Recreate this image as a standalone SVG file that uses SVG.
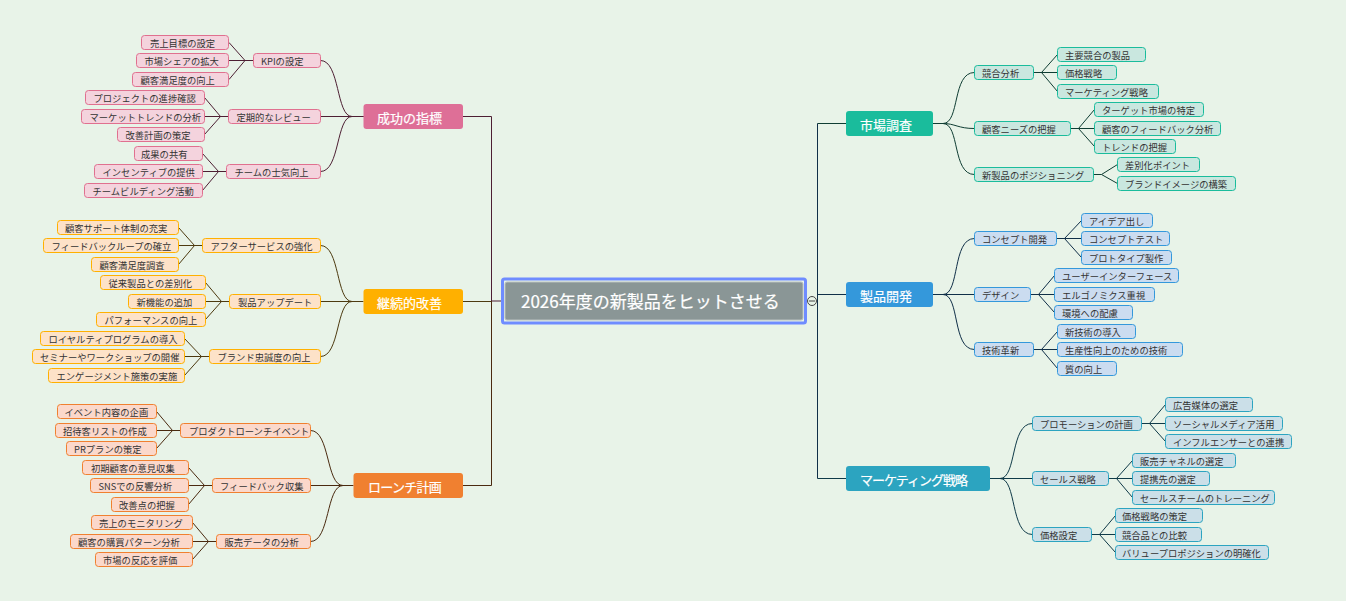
<svg xmlns="http://www.w3.org/2000/svg" width="1346" height="601" viewBox="0 0 1346 601">
<style>
text{font-family:"Noto Sans CJK JP","Noto Sans",sans-serif}
.t{font-size:9.3px;fill:#333;transform:translateY(1px)}
.m{font-size:13px;fill:#fff;stroke:#fff;stroke-width:.2;transform:translateY(1.5px)}
.n{stroke-width:1}
.c{fill:none;stroke-width:1}
.pink .n{fill:#f4d3dd;stroke:#e0708f}.pink .b{fill:#de6f97}
.yel .n{fill:#fde2c8;stroke:#ffb000}.yel .b{fill:#ffb000}
.ora .n{fill:#fbd8cb;stroke:#f08030}.ora .b{fill:#f08030}
.tea .n{fill:#c9e7df;stroke:#1abc9c}.tea .b{fill:#1abc9c}
.blu .n{fill:#cbdcf0;stroke:#3498db}.blu .b{fill:#3498db}
.cya .n{fill:#cbdfe8;stroke:#2ca4c0}.cya .b{fill:#2ca4c0}
.cp{stroke:#4d1f33}.cy{stroke:#4d3a10}.co{stroke:#4a2a10}.ct{stroke:#0f3d33}.cb{stroke:#102f48}.cc{stroke:#0f3a48}
</style>
<rect width="1346" height="601" fill="#e8f3e8"/>
<g id="connectors">
<path class="c cp" d="M463 116.5H491.5V301H503M352 116.5H463M320.5 60.5C340 60.5 336 116.5 352 116.5M320.5 116.5H352M320.5 171.5C340 171.5 336 116.5 352 116.5"/>
<path class="c cp" d="M253.5 60.5H229M245 60.5L229 42.5M245 60.5L229 79.5M228.5 116.5H204.5M220.5 116.5L204.5 97.5M220.5 116.5L204.5 134.5M226.5 171.5H202.5M218.5 171.5L202.5 153.5M218.5 171.5L202.5 190.5"/>
<path class="c cy" d="M463 301.5H491.5M352 301.5H363.5M320.5 245.5C340 245.5 336 301.5 352 301.5M320.5 301.5H352M320.5 356.5C340 356.5 336 301.5 352 301.5"/>
<path class="c cy" d="M202.5 245.5H178.5M194.5 245.5L178.5 227.5M194.5 245.5L178.5 264.5M229.5 301.5H205.5M221.5 301.5L205.5 282.5M221.5 301.5L205.5 319.5M209.5 356.5H184.5M201.5 356.5L184.5 338.5M201.5 356.5L184.5 375.5"/>
<path class="c co" d="M463 485.5H491.5V301M343 485.5H353.5M310.5 430.5C330 430.5 326 485.5 343 485.5M310.5 485.5H343M310.5 541.5C330 541.5 326 485.5 343 485.5"/>
<path class="c co" d="M180.5 430.5H156.5M172.5 430.5L156.5 411.5M172.5 430.5L156.5 448.5M212.5 485.5H188.5M204.5 485.5L188.5 467.5M204.5 485.5L188.5 504.5M216.5 541.5H192.5M208.5 541.5L192.5 522.5M208.5 541.5L192.5 559.5"/>
<path class="c ct" d="M817.5 123.5H846M933 123.5H943M943 123.5C960 123.5 952 72.5 974.5 72.5M943 123.5C955 123.5 958 128.5 974.5 128.5M943 123.5C960 123.5 952 174.5 974.5 174.5"/>
<path class="c ct" d="M1033.5 72.5H1057.5M1041.5 72.5L1057.5 54.5M1041.5 72.5L1057.5 91.5M1070.5 128.5H1094.5M1078.5 128.5L1094.5 109.5M1078.5 128.5L1094.5 146.5M1093.5 174.5H1101.5M1101.5 174.5L1117.5 164.5M1101.5 174.5L1117.5 183.5"/>
<path class="c cb" d="M817.5 123.5V478.5M817.5 294.5H846M933 294.5H974.5M943 294.5C960 294.5 952 238.5 974.5 238.5M943 294.5C960 294.5 952 349.5 974.5 349.5"/>
<path class="c cb" d="M1056.5 238.5H1081.5M1064.5 238.5L1081.5 220.5M1064.5 238.5L1081.5 257.5M1030.5 294.5H1054.5M1038.5 294.5L1054.5 275.5M1038.5 294.5L1054.5 312.5M1033.5 349.5H1057.5M1041.5 349.5L1057.5 331.5M1041.5 349.5L1057.5 368.5"/>
<path class="c cc" d="M817.5 478.5H846M990 478.5H1032.5M1000 478.5C1017 478.5 1010 423.5 1032.5 423.5M1000 478.5C1017 478.5 1010 534.5 1032.5 534.5"/>
<path class="c cc" d="M1141.5 423.5H1165.5M1149.5 423.5L1165.5 404.5M1149.5 423.5L1165.5 441.5M1108.5 478.5H1132.5M1116.5 478.5L1132.5 460.5M1116.5 478.5L1132.5 497.5M1091.5 534.5H1115.5M1099.5 534.5L1115.5 515.5M1099.5 534.5L1115.5 552.5"/>
<path class="c" stroke="#333" d="M806 301H807"/>
</g>
<g id="center">
<rect x="502.5" y="279" width="303" height="44" rx="2" fill="#e8f3e8" stroke="#6f8cff" stroke-width="3"/>
<rect x="505" y="282" width="298" height="38" rx="2" fill="#8a9696" stroke="#b8c0c0"/>
<text x="521" y="308" font-size="17" fill="#fff" stroke="#fff" stroke-width=".2">2026年度の新製品をヒットさせる</text>
</g>
<g id="collapse"><circle cx="812" cy="301" r="4.5" fill="#e8f3e8" stroke="#444"/><path d="M809 301H815" stroke="#444"/></g>
<g id="pink" class="pink">
<g id="m1"><rect class="b" x="363.5" y="104" width="99.5" height="25" rx="3"/><text class="m" x="377" y="121">成功の指標</text></g>
<g id="s11"><rect class="n" x="253.5" y="53.5" width="67" height="14" rx="3"/><text class="t" x="261" y="64">KPIの設定</text></g>
<g id="l111"><rect class="n" x="141.5" y="35.5" width="87" height="14" rx="3"/><text class="t" x="150" y="46">売上目標の設定</text></g>
<g id="l112"><rect class="n" x="136.5" y="53.5" width="92" height="14" rx="3"/><text class="t" x="144.5" y="64">市場シェアの拡大</text></g>
<g id="l113"><rect class="n" x="132.5" y="72.5" width="96" height="14" rx="3"/><text class="t" x="140.5" y="83">顧客満足度の向上</text></g>
<g id="s12"><rect class="n" x="228.5" y="109.5" width="92" height="14" rx="3"/><text class="t" x="236.5" y="120">定期的なレビュー</text></g>
<g id="l121"><rect class="n" x="85.5" y="90.5" width="119" height="14" rx="3"/><text class="t" x="93.5" y="101">プロジェクトの進捗確認</text></g>
<g id="l122"><rect class="n" x="81.5" y="109.5" width="123" height="14" rx="3"/><text class="t" x="89.5" y="120">マーケットトレンドの分析</text></g>
<g id="l123"><rect class="n" x="117.5" y="127.5" width="87" height="14" rx="3"/><text class="t" x="125.5" y="138">改善計画の策定</text></g>
<g id="s13"><rect class="n" x="226.5" y="164.5" width="94" height="14" rx="3"/><text class="t" x="234.5" y="175">チームの士気向上</text></g>
<g id="l131"><rect class="n" x="134.5" y="146.5" width="68" height="14" rx="3"/><text class="t" x="141" y="157">成果の共有</text></g>
<g id="l132"><rect class="n" x="94.5" y="164.5" width="108" height="14" rx="3"/><text class="t" x="102.5" y="175">インセンティブの提供</text></g>
<g id="l133"><rect class="n" x="84.5" y="183.5" width="118" height="14" rx="3"/><text class="t" x="92.5" y="194">チームビルディング活動</text></g>
</g>
<g id="yellow" class="yel">
<g id="m2"><rect class="b" x="363.5" y="289" width="99.5" height="25" rx="3"/><text class="m" x="377" y="306">継続的改善</text></g>
<g id="s21"><rect class="n" x="202.5" y="238.5" width="118" height="14" rx="3"/><text class="t" x="210.5" y="249">アフターサービスの強化</text></g>
<g id="l211"><rect class="n" x="57.5" y="220.5" width="121" height="14" rx="3"/><text class="t" x="65" y="231">顧客サポート体制の充実</text></g>
<g id="l212"><rect class="n" x="43.5" y="238.5" width="135" height="14" rx="3"/><text class="t" x="51.5" y="249">フィードバックループの確立</text></g>
<g id="l213"><rect class="n" x="91.5" y="257.5" width="87" height="14" rx="3"/><text class="t" x="99.5" y="268">顧客満足度調査</text></g>
<g id="s22"><rect class="n" x="229.5" y="294.5" width="91" height="14" rx="3"/><text class="t" x="238" y="305">製品アップデート</text></g>
<g id="l221"><rect class="n" x="100.5" y="275.5" width="105" height="14" rx="3"/><text class="t" x="108.5" y="286">従来製品との差別化</text></g>
<g id="l222"><rect class="n" x="128.5" y="294.5" width="77" height="14" rx="3"/><text class="t" x="136.5" y="305">新機能の追加</text></g>
<g id="l223"><rect class="n" x="96.5" y="312.5" width="109" height="14" rx="3"/><text class="t" x="104.5" y="323">パフォーマンスの向上</text></g>
<g id="s23"><rect class="n" x="209.5" y="349.5" width="111" height="14" rx="3"/><text class="t" x="217.5" y="360">ブランド忠誠度の向上</text></g>
<g id="l231"><rect class="n" x="40.5" y="331.5" width="144" height="14" rx="3"/><text class="t" x="48.5" y="342">ロイヤルティプログラムの導入</text></g>
<g id="l232"><rect class="n" x="32.5" y="349.5" width="152" height="14" rx="3"/><text class="t" x="40" y="360">セミナーやワークショップの開催</text></g>
<g id="l233"><rect class="n" x="48.5" y="368.5" width="136" height="14" rx="3"/><text class="t" x="56.5" y="379">エンゲージメント施策の実施</text></g>
</g>
<g id="orange" class="ora">
<g id="m3"><rect class="b" x="353.5" y="473" width="109.5" height="25" rx="3"/><text class="m" x="368" y="490" letter-spacing="-.7">ローンチ計画</text></g>
<g id="s31"><rect class="n" x="180.5" y="423.5" width="130" height="14" rx="3"/><text class="t" x="189" y="434">プロダクトローンチイベント</text></g>
<g id="l311"><rect class="n" x="57.5" y="404.5" width="99" height="14" rx="3"/><text class="t" x="64.5" y="415">イベント内容の企画</text></g>
<g id="l312"><rect class="n" x="55.5" y="423.5" width="101" height="14" rx="3"/><text class="t" x="63" y="434">招待客リストの作成</text></g>
<g id="l313"><rect class="n" x="66.5" y="441.5" width="90" height="14" rx="3"/><text class="t" x="74" y="452">PRプランの策定</text></g>
<g id="s32"><rect class="n" x="212.5" y="478.5" width="98" height="14" rx="3"/><text class="t" x="220" y="489">フィードバック収集</text></g>
<g id="l321"><rect class="n" x="82.5" y="460.5" width="106" height="14" rx="3"/><text class="t" x="91" y="471">初期顧客の意見収集</text></g>
<g id="l322"><rect class="n" x="90.5" y="478.5" width="98" height="14" rx="3"/><text class="t" x="98.5" y="489">SNSでの反響分析</text></g>
<g id="l323"><rect class="n" x="111.5" y="497.5" width="77" height="14" rx="3"/><text class="t" x="119" y="508">改善点の把握</text></g>
<g id="s33"><rect class="n" x="216.5" y="534.5" width="94" height="14" rx="3"/><text class="t" x="224.5" y="545">販売データの分析</text></g>
<g id="l331"><rect class="n" x="91.5" y="515.5" width="101" height="14" rx="3"/><text class="t" x="99" y="526">売上のモニタリング</text></g>
<g id="l332"><rect class="n" x="70.5" y="534.5" width="122" height="14" rx="3"/><text class="t" x="78" y="545">顧客の購買パターン分析</text></g>
<g id="l333"><rect class="n" x="95.5" y="552.5" width="97" height="14" rx="3"/><text class="t" x="103" y="563">市場の反応を評価</text></g>
</g>
<g id="teal" class="tea">
<g id="m4"><rect class="b" x="846" y="111" width="87" height="25" rx="3"/><text class="m" x="860" y="128">市場調査</text></g>
<g id="s41"><rect class="n" x="974.5" y="65.5" width="59" height="14" rx="3"/><text class="t" x="982" y="76">競合分析</text></g>
<g id="l411"><rect class="n" x="1057.5" y="47.5" width="88" height="14" rx="3"/><text class="t" x="1065" y="58">主要競合の製品</text></g>
<g id="l412"><rect class="n" x="1057.5" y="65.5" width="59" height="14" rx="3"/><text class="t" x="1065" y="76">価格戦略</text></g>
<g id="l413"><rect class="n" x="1057.5" y="84.5" width="101" height="14" rx="3"/><text class="t" x="1065" y="95">マーケティング戦略</text></g>
<g id="s42"><rect class="n" x="974.5" y="121.5" width="96" height="14" rx="3"/><text class="t" x="982" y="132">顧客ニーズの把握</text></g>
<g id="l421"><rect class="n" x="1094.5" y="102.5" width="109" height="14" rx="3"/><text class="t" x="1102" y="113">ターゲット市場の特定</text></g>
<g id="l422"><rect class="n" x="1094.5" y="121.5" width="126" height="14" rx="3"/><text class="t" x="1102" y="132">顧客のフィードバック分析</text></g>
<g id="l423"><rect class="n" x="1094.5" y="139.5" width="81" height="14" rx="3"/><text class="t" x="1102" y="150">トレンドの把握</text></g>
<g id="s43"><rect class="n" x="974.5" y="167.5" width="119" height="14" rx="3"/><text class="t" x="982" y="178">新製品のポジショニング</text></g>
<g id="l431"><rect class="n" x="1117.5" y="157.5" width="82" height="14" rx="3"/><text class="t" x="1125" y="168">差別化ポイント</text></g>
<g id="l432"><rect class="n" x="1117.5" y="176.5" width="118" height="14" rx="3"/><text class="t" x="1125" y="187">ブランドイメージの構築</text></g>
</g>
<g id="blue" class="blu">
<g id="m5"><rect class="b" x="846" y="282" width="87" height="25" rx="3"/><text class="m" x="860" y="299">製品開発</text></g>
<g id="s51"><rect class="n" x="974.5" y="231.5" width="82" height="14" rx="3"/><text class="t" x="982" y="242">コンセプト開発</text></g>
<g id="l511"><rect class="n" x="1081.5" y="213.5" width="71" height="14" rx="3"/><text class="t" x="1089" y="224">アイデア出し</text></g>
<g id="l512"><rect class="n" x="1081.5" y="231.5" width="88" height="14" rx="3"/><text class="t" x="1089" y="242">コンセプトテスト</text></g>
<g id="l513"><rect class="n" x="1081.5" y="250.5" width="90" height="14" rx="3"/><text class="t" x="1089" y="261">プロトタイプ製作</text></g>
<g id="s52"><rect class="n" x="974.5" y="287.5" width="56" height="14" rx="3"/><text class="t" x="982" y="298">デザイン</text></g>
<g id="l521"><rect class="n" x="1054.5" y="268.5" width="124" height="14" rx="3"/><text class="t" x="1062" y="279">ユーザーインターフェース</text></g>
<g id="l522"><rect class="n" x="1054.5" y="287.5" width="100" height="14" rx="3"/><text class="t" x="1062" y="298">エルゴノミクス重視</text></g>
<g id="l523"><rect class="n" x="1054.5" y="305.5" width="78" height="14" rx="3"/><text class="t" x="1062" y="316">環境への配慮</text></g>
<g id="s53"><rect class="n" x="974.5" y="342.5" width="59" height="14" rx="3"/><text class="t" x="982" y="353">技術革新</text></g>
<g id="l531"><rect class="n" x="1057.5" y="324.5" width="78" height="14" rx="3"/><text class="t" x="1065" y="335">新技術の導入</text></g>
<g id="l532"><rect class="n" x="1057.5" y="342.5" width="125" height="14" rx="3"/><text class="t" x="1065" y="353">生産性向上のための技術</text></g>
<g id="l533"><rect class="n" x="1057.5" y="361.5" width="59" height="14" rx="3"/><text class="t" x="1065" y="372">質の向上</text></g>
</g>
<g id="cyan" class="cya">
<g id="m6"><rect class="b" x="846" y="466" width="144" height="25" rx="3"/><text class="m" x="860" y="483" letter-spacing="-1">マーケティング戦略</text></g>
<g id="s61"><rect class="n" x="1032.5" y="416.5" width="109" height="14" rx="3"/><text class="t" x="1040" y="427">プロモーションの計画</text></g>
<g id="l611"><rect class="n" x="1165.5" y="397.5" width="87" height="14" rx="3"/><text class="t" x="1173" y="408">広告媒体の選定</text></g>
<g id="l612"><rect class="n" x="1165.5" y="416.5" width="117" height="14" rx="3"/><text class="t" x="1173" y="427">ソーシャルメディア活用</text></g>
<g id="l613"><rect class="n" x="1165.5" y="434.5" width="126" height="14" rx="3"/><text class="t" x="1173" y="445">インフルエンサーとの連携</text></g>
<g id="s62"><rect class="n" x="1032.5" y="471.5" width="76" height="14" rx="3"/><text class="t" x="1040" y="482">セールス戦略</text></g>
<g id="l621"><rect class="n" x="1132.5" y="453.5" width="103" height="14" rx="3"/><text class="t" x="1140" y="464">販売チャネルの選定</text></g>
<g id="l622"><rect class="n" x="1132.5" y="471.5" width="77" height="14" rx="3"/><text class="t" x="1140" y="482">提携先の選定</text></g>
<g id="l623"><rect class="n" x="1132.5" y="490.5" width="142" height="14" rx="3"/><text class="t" x="1140" y="501">セールスチームのトレーニング</text></g>
<g id="s63"><rect class="n" x="1032.5" y="527.5" width="59" height="14" rx="3"/><text class="t" x="1040" y="538">価格設定</text></g>
<g id="l631"><rect class="n" x="1115.5" y="508.5" width="87" height="14" rx="3"/><text class="t" x="1122" y="519">価格戦略の策定</text></g>
<g id="l632"><rect class="n" x="1115.5" y="527.5" width="86" height="14" rx="3"/><text class="t" x="1122" y="538">競合品との比較</text></g>
<g id="l633"><rect class="n" x="1115.5" y="545.5" width="153" height="14" rx="3"/><text class="t" x="1122" y="556">バリュープロポジションの明確化</text></g>
</g>
</svg>
